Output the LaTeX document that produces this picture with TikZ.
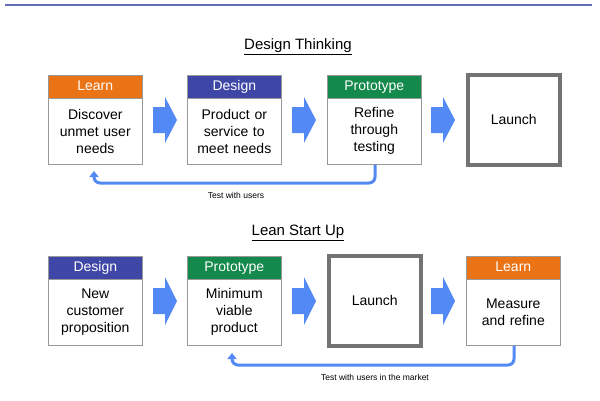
\documentclass[tikz,border=0pt]{standalone}
\usepackage{fontspec}
\setmainfont{Liberation Sans}
\usetikzlibrary{arrows.meta}
\definecolor{lorange}{HTML}{EA7316}
\definecolor{dblue}{HTML}{3E47A6}
\definecolor{pgreen}{HTML}{13894B}
\definecolor{arrblue}{HTML}{5389F5}
\begin{document}
\begin{tikzpicture}[x=1pt,y=-1pt,
  hdr/.style={draw=gray!80,line width=0.6pt,minimum width=94pt,minimum height=23pt,text=white,font=\fontsize{14}{16}\selectfont,inner sep=0pt,text height=10pt,text depth=3pt,anchor=north west},
  bdy/.style={draw=gray!80,line width=0.6pt,minimum width=94pt,fill=white,font=\fontsize{14}{17}\selectfont,align=center,inner sep=0pt,anchor=north west,text width=92pt},
  launch/.style={draw=gray!90!black,line width=3.5pt,fill=white,minimum width=92pt,minimum height=90pt,font=\fontsize{14}{16}\selectfont,anchor=north west,inner sep=0pt},
  bigarrow/.style={fill=arrblue,draw=none},
  fb/.style={draw=arrblue,line width=3pt,rounded corners=6pt,-{Triangle[length=6pt,width=9pt]}},
  ttl/.style={font=\fontsize{15}{17}\selectfont},
  lbl/.style={font=\fontsize{8.5}{10}\selectfont}]
\useasboundingbox (0,0) rectangle (600,400);
\draw[line width=2pt,color=dblue!80] (5,5) -- (592,5);
% Top
\node[ttl] (t1) at (298,47) {\underline{Design Thinking}};
\node[hdr,fill=lorange] (h1) at (48,75) {Learn};
\node[bdy,minimum height=66pt] (b1) at (48,98) {Discover\\unmet user\\needs};
\node[hdr,fill=dblue] (h2) at (187,75) {Design};
\node[bdy,minimum height=66pt] (b2) at (187,98) {Product or\\service to\\meet needs};
\node[hdr,fill=pgreen] (h3) at (327,75) {Prototype};
\node[bdy,minimum height=66pt] (b3) at (327,98) {Refine\\through\\testing};
\node[launch] (l1) at (466,73) {Launch};
\foreach \x in {153,292,431}{
  \fill[bigarrow] (\x,107) -- (\x+12,107) -- (\x+12,97) -- (\x+24,120) -- (\x+12,143) -- (\x+12,133) -- (\x,133) -- cycle;}
\coordinate (c1) at (94,171);
\draw[fb] (b3.south -| 375,0) |- (233,183) -| (c1);
\node[lbl] (fl1) at (236,195) {Test with users};
% Bottom
\node[ttl] (t2) at (298,233) {\underline{Lean Start Up}};
\node[hdr,fill=dblue] (h4) at (48,256) {Design};
\node[bdy,minimum height=66pt] (b4) at (48,279) {New\\customer\\proposition};
\node[hdr,fill=pgreen] (h5) at (187,256) {Prototype};
\node[bdy,minimum height=66pt] (b5) at (187,279) {Minimum\\viable\\product};
\node[launch] (l2) at (327,254) {Launch};
\node[hdr,fill=lorange] (h6) at (466,256) {Learn};
\node[bdy,minimum height=66pt] (b6) at (466,279) {Measure\\and refine};
\foreach \x in {153,292,431}{
  \fill[bigarrow] (\x,288) -- (\x+12,288) -- (\x+12,277) -- (\x+24,301) -- (\x+12,325) -- (\x+12,314) -- (\x,314) -- cycle;}
\coordinate (c2) at (232,353);
\draw[fb] (b6.south -| 514,0) |- (400,365) -| (c2);
\node[lbl] (fl2) at (375,377) {Test with users in the market};
\end{tikzpicture}
\end{document}
